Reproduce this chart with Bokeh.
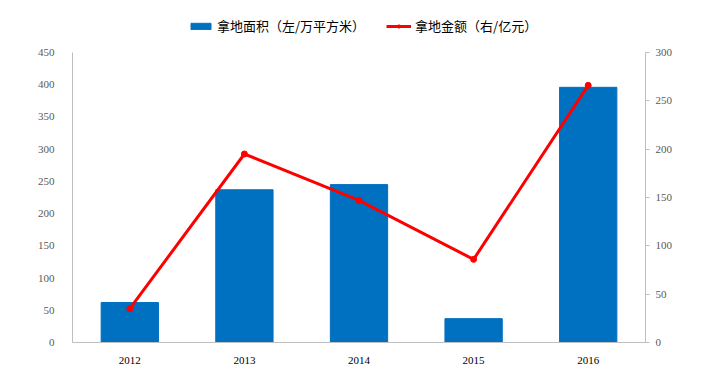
from bokeh.plotting import figure
from bokeh.models import Range1d, LinearAxis, Legend, LegendItem, FixedTicker
from bokeh.layouts import column
from bokeh.embed import file_html
from bokeh.resources import INLINE

years = ["2012", "2013", "2014", "2015", "2016"]
area = [62, 237, 245, 37, 396]        # 拿地面积（左/万平方米）
amount = [35, 195, 147, 86, 266]      # 拿地金额（右/亿元）
left_ticks = [0, 50, 100, 150, 200, 250, 300, 350, 400, 450]
right_ticks = [0, 50, 100, 150, 200, 250, 300]
labels = ["拿地面积（左/万平方米）", "拿地金额（右/亿元）"]

bar_col = "#0070C0"
line_col = "#FF0000"
axis_col = "#BFBFBF"
serif = "Liberation Serif"

# main chart
p = figure(x_range=years, y_range=Range1d(0, 450), width=704, height=340,
           output_backend="svg", toolbar_location=None,
           min_border_left=72, min_border_right=59, min_border_top=16, min_border_bottom=34)
p.extra_y_ranges = {"r": Range1d(0, 300)}
p.outline_line_color = None
p.xgrid.grid_line_color = None
p.ygrid.grid_line_color = None

p.vbar(x=years, top=area, width=0.5, color=bar_col)
p.line(x=years, y=amount, y_range_name="r", line_color=line_col, line_width=3)
p.scatter(x=years, y=amount, y_range_name="r", size=6, color=line_col)

ya = p.yaxis[0]
ya.ticker = FixedTicker(ticks=left_ticks)
ya.axis_line_color = axis_col
ya.major_tick_line_color = None
ya.minor_tick_line_color = None
ya.major_label_text_font = serif
ya.major_label_text_font_size = "11px"
ya.major_label_text_color = "#595959"
ya.major_label_standoff = 12

ra = LinearAxis(y_range_name="r", ticker=FixedTicker(ticks=right_ticks))
ra.axis_line_color = axis_col
ra.major_tick_line_color = axis_col
ra.major_tick_in = 0
ra.major_tick_out = 4
ra.minor_tick_line_color = None
ra.major_label_text_font = serif
ra.major_label_text_font_size = "11px"
ra.major_label_text_color = "#595959"
ra.major_label_standoff = 6
p.add_layout(ra, "right")

xa = p.xaxis[0]
xa.axis_line_color = axis_col
xa.major_tick_line_color = None
xa.minor_tick_line_color = None
xa.major_label_text_font = serif
xa.major_label_text_font_size = "11px"
xa.major_label_text_color = "#000000"
xa.major_label_standoff = 8

# legend strip (its frame is aligned with the chart's frame by the column layout)
lf = figure(width=704, height=36, x_range=Range1d(0, 1), y_range=Range1d(0, 1),
            output_backend="svg", toolbar_location=None,
            x_axis_location=None, y_axis_location=None,
            min_border_left=0, min_border_right=0, min_border_top=0, min_border_bottom=0)
lf.outline_line_color = None
lf.xgrid.grid_line_color = None
lf.ygrid.grid_line_color = None
# off-screen proxies so that the legend can draw its swatches
lb = lf.vbar(x=[-5], top=[-5], width=0.5, color=bar_col)
ll = lf.line(x=[-5, -6], y=[-5, -6], line_color=line_col, line_width=3)
lp = lf.scatter(x=[-5], y=[-5], size=6, color=line_col)

legend = Legend(items=[LegendItem(label=labels[0], renderers=[lb]),
                       LegendItem(label=labels[1], renderers=[ll, lp])],
                orientation="horizontal", location=(116, 1),
                label_text_font="Noto Sans CJK SC", label_text_font_size="13px",
                label_text_color="#000000", label_height=16, label_standoff=4,
                glyph_width=25, glyph_height=8, spacing=21, padding=0, margin=0,
                border_line_color=None, background_fill_alpha=0)
lf.add_layout(legend, "center")

open("out.html", "w").write(file_html(column(lf, p, spacing=0), INLINE))
